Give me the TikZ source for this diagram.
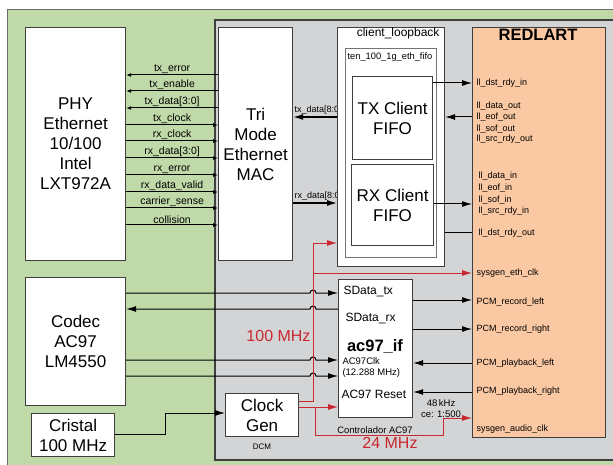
\documentclass[tikz,border=0pt]{standalone}
\usepackage{fontspec}
\setmainfont{Liberation Sans}
\usetikzlibrary{arrows.meta}
\definecolor{boardgreen}{RGB}{192,217,168}
\definecolor{fpgagrey}{RGB}{211,212,214}
\definecolor{peach}{RGB}{250,200,162}
\definecolor{clkred}{RGB}{200,40,48}
\definecolor{edge}{RGB}{62,62,62}
\tikzset{
  blk/.style={draw=edge,line width=1.2,fill=white,anchor=north west,inner sep=0pt,align=center},
  big/.style={font=\fontsize{17}{20}\selectfont},
  sig/.style={font=\fontsize{10.5}{12}\selectfont,inner sep=1pt},
  port/.style={font=\fontsize{9}{11}\selectfont,anchor=west,inner sep=0pt},
  lbl/.style={font=\fontsize{12}{14}\selectfont,anchor=west,inner sep=0pt},
  tip/.style={-{Latex[length=5pt,width=4pt]}},
  bigtip/.style={-{Latex[length=10pt,width=6pt]}},
  clk/.style={draw=clkred,line width=0.9},
  mhz/.style={text=clkred,font=\fontsize{16}{18}\selectfont,inner sep=0pt}
}
\begin{document}
\begin{tikzpicture}[x=1pt,y=-1pt,line width=1]
\useasboundingbox (0,0) rectangle (613,465);
\filldraw[fill=boardgreen,draw=gray!85!black,line width=1.5] (7.5,9.5) rectangle (640,490);
\filldraw[fill=fpgagrey,draw=edge,line width=1.2] (215,20) rectangle (640,460);

\node[blk,big,minimum width=100,minimum height=233] (phy) at (25,27) {PHY\\Ethernet\\10/100\\Intel\\LXT972A};
\node[blk,big,minimum width=100,minimum height=128] (codec) at (25,277) {Codec\\AC97\\LM4550};
\node[blk,big,minimum width=83,minimum height=43] (cristal) at (31,413) {Cristal\\100 MHz};
\node[blk,big,minimum width=74,minimum height=233] (mac) at (218,27) {Tri\\Mode\\Ethernet\\MAC};
\node[blk,big,minimum width=73,minimum height=43] (clockgen) at (225,393) {Clock\\Gen};
\node[font=\fontsize{8}{10}\selectfont] (dcm) at (262,447) {DCM};

\node[blk,minimum width=107,minimum height=239] (loop) at (337,27) {};
\node[lbl,anchor=east] (looplbl) at (440,33) {client\_loopback};
\node[blk,draw=gray!90!black,minimum width=91,minimum height=209] (ethfifo) at (345,48) {};
\node[font=\fontsize{9.3}{11}\selectfont] (ethlbl) at (390,57) {ten\_100\_1g\_eth\_fifo};
\node[blk,big,minimum width=80,minimum height=83] (txfifo) at (352,76) {TX Client\\FIFO};
\node[blk,big,minimum width=82,minimum height=81] (rxfifo) at (351,164) {RX Client\\FIFO};

\node[blk,minimum width=74,minimum height=138] (ac97) at (338,279) {};
\node[lbl] (sdtx) at (343,292) {SData\_tx};
\node[lbl] (sdrx) at (345,319) {SData\_rx};
\node[font=\fontsize{16.5}{18}\selectfont\bfseries] (ac97lbl) at (375,347) {ac97\_if};
\node[port,font=\fontsize{9.5}{11}\selectfont] (bitclk) at (342,361) {AC97Clk};
\node[port,font=\fontsize{9.5}{11}\selectfont] (bitfreq) at (342,373) {(12.288 MHz)};
\node[lbl] (reset) at (341,394) {AC97 Reset};
\node[font=\fontsize{9.4}{11}\selectfont] (ctrl) at (375,430) {Controlador AC97};

\node[blk,fill=peach,minimum width=133,minimum height=410] (redlart) at (472,27) {};
\node[font=\fontsize{16.5}{18}\selectfont\bfseries] (redlbl) at (538,35) {REDLART};
\foreach \y/\t in {83/ll\_dst\_rdy\_in,106/ll\_data\_out,117/ll\_eof\_out,129/ll\_sof\_out,139/ll\_src\_rdy\_out}
  \node[port] (o\y) at (476,\y) {\t};
\foreach \y/\t in {176/ll\_data\_in,188/ll\_eof\_in,200/ll\_sof\_in,211/ll\_src\_rdy\_in,233/ll\_dst\_rdy\_out}
  \node[port] (i\y) at (478,\y) {\t};
\foreach \y/\t in {273/sysgen\_eth\_clk,302/PCM\_record\_left,329/PCM\_record\_right,363/PCM\_playback\_left,391/PCM\_playback\_right,429/sysgen\_audio\_clk}
  \node[port] (a\y) at (476,\y) {\t};

\foreach \y/\t in {75/tx\_error,91/tx\_enable,108/{tx\_data[3:0]}}
  \draw[tip] (mac.west |- 0,\y) -- node[sig,above] (s\y) {\t} (phy.east |- 0,\y);
\foreach \y/\t in {125/tx\_clock,141/rx\_clock,158/{rx\_data[3:0]},175/rx\_error,192/rx\_data\_valid,208/carrier\_sense,225/collision}
  \draw[tip] (phy.east |- 0,\y) -- node[sig,above] (s\y) {\t} (mac.west |- 0,\y);

\begin{scope}
\clip (293,90) rectangle (336.4,210);
\node[port,anchor=south west] (txdlbl) at (294,115) {tx\_data[8:0]};
\node[port,anchor=south west] (rxdlbl) at (294,201) {rx\_data[8:0]};
\end{scope}
\draw[bigtip,line width=1.3] (loop.west |- 0,117) -- (mac.east |- 0,117);
\draw[bigtip,line width=1.3] (mac.east |- 0,203) -- (loop.west |- 0,203);

\draw[bigtip] (txfifo.east |- 0,83) -- (redlart.west |- 0,83);
\draw[bigtip] (redlart.west |- 0,117) -- (loop.east |- 0,117);
\draw[bigtip] (rxfifo.east |- 0,204) -- (redlart.west |- 0,204);
\draw (loop.east |- 0,233) -- (redlart.west |- 0,233);

\foreach \y in {293,360,376}
  \draw[bigtip] (codec.east |- 0,\y) -- (310,\y) arc (180:360:3) -- (ac97.west |- 0,\y);
\draw[bigtip] (ac97.west |- 0,309) -- (316,309) arc (360:180:3) -- (codec.east |- 0,309);

\draw[bigtip] (ac97.east |- 0,300) -- (redlart.west |- 0,300);
\draw[bigtip] (ac97.east |- 0,329) -- (redlart.west |- 0,329);
\draw[bigtip] (redlart.west |- 0,363) -- (ac97.east |- 0,363);
\draw[bigtip] (redlart.west |- 0,392) -- (ac97.east |- 0,392);

\draw[bigtip] (cristal.east |- 0,434) -- (165,434) |- (clockgen.west |- 0,413);

\coordinate (tap100) at (313,273);
\coordinate (tap24) at (315,407);
\draw[clk,bigtip] (clockgen.east |- 0,401) -- (313,401) -- (313,243) -- (loop.west |- 0,243);
\draw[clk,bigtip] (tap100) -- (redlart.west |- tap100);
\draw[clk,bigtip] (clockgen.east |- tap24) -- (ac97.west |- tap24);
\draw[clk,bigtip] (tap24) -- (315,435) -- (443,435) -- (443,418) -- (redlart.west |- 0,418);
\node[mhz,anchor=east] (f100) at (311,336) {100 MHz};
\node[mhz] (f24) at (390,443) {24 MHz};
\node[port,anchor=center,font=\fontsize{9.5}{11}\selectfont] (fs) at (441,403) {48\,kHz};
\node[port,anchor=center,font=\fontsize{9.5}{11}\selectfont] (ce) at (441,414) {ce: 1:500};
\end{tikzpicture}
\end{document}
